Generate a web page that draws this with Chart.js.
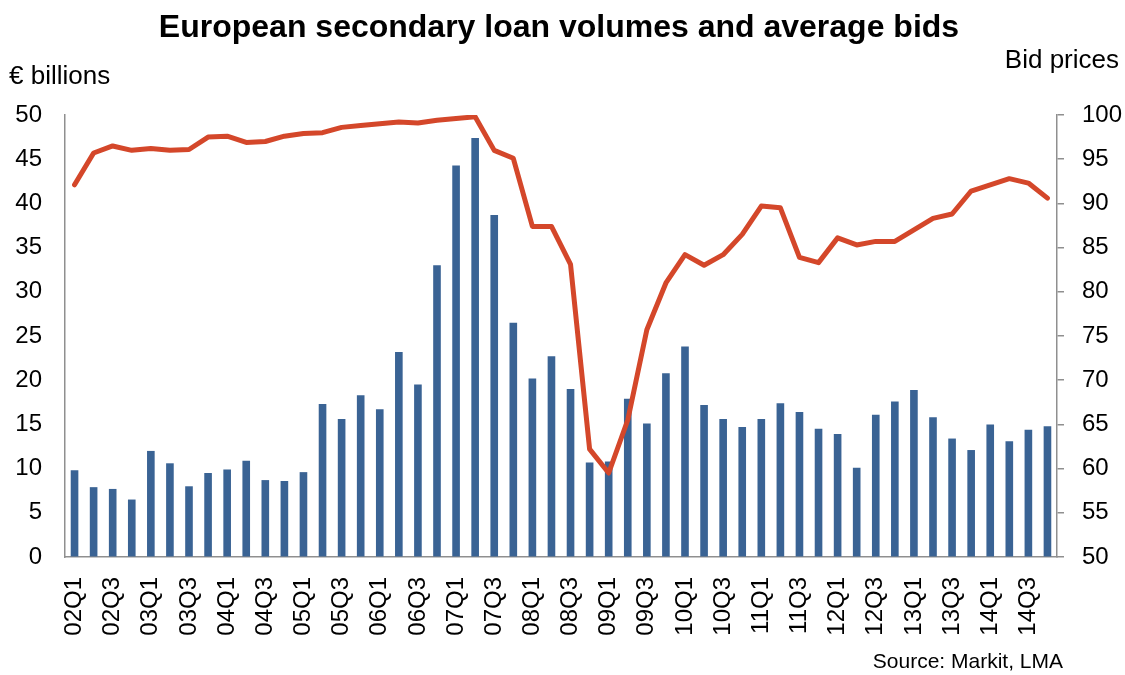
<!DOCTYPE html>
<html>
<head>
<meta charset="utf-8">
<script src="https://cdn.jsdelivr.net/npm/chart.js@4.4.1/dist/chart.umd.min.js"></script>
<style>
  html, body { margin: 0; padding: 0; background: #fff; }
  #wrap { position: relative; width: 1125px; height: 675px; }
</style>
</head>
<body>
<div id="wrap"><canvas id="myChart" width="1125" height="675"></canvas></div>
<script>
// quarters 02Q1 .. 14Q4
const quarters = [
  '02Q1','02Q2','02Q3','02Q4','03Q1','03Q2','03Q3','03Q4',
  '04Q1','04Q2','04Q3','04Q4','05Q1','05Q2','05Q3','05Q4',
  '06Q1','06Q2','06Q3','06Q4','07Q1','07Q2','07Q3','07Q4',
  '08Q1','08Q2','08Q3','08Q4','09Q1','09Q2','09Q3','09Q4',
  '10Q1','10Q2','10Q3','10Q4','11Q1','11Q2','11Q3','11Q4',
  '12Q1','12Q2','12Q3','12Q4','13Q1','13Q2','13Q3','13Q4',
  '14Q1','14Q2','14Q3','14Q4'
];

// secondary loan volumes, EUR billions (left axis)
const volumes = [
  9.8, 7.9, 7.7, 6.5, 12.0, 10.6, 8.0, 9.5,
  9.9, 10.9, 8.7, 8.6, 9.6, 17.3, 15.6, 18.3,
  16.7, 23.2, 19.5, 33.0, 44.3, 47.4, 38.7, 26.5,
  20.2, 22.7, 19.0, 10.7, 10.8, 17.9, 15.1, 20.8,
  23.8, 17.2, 15.6, 14.7, 15.6, 17.4, 16.4, 14.5,
  13.9, 10.1, 16.1, 17.6, 18.9, 15.8, 13.4, 12.1,
  15.0, 13.1, 14.4, 14.8
];

// average bid prices (right axis)
const bids = [
  92.1, 95.7, 96.5, 96.0, 96.2, 96.0, 96.1, 97.5,
  97.6, 96.9, 97.0, 97.6, 97.9, 98.0, 98.6, 98.8,
  99.0, 99.2, 99.1, 99.4, 99.6, 99.8, 96.0, 95.1,
  87.4, 87.4, 83.1, 62.2, 59.5, 65.5, 75.7, 81.0,
  84.2, 83.0, 84.2, 86.5, 89.7, 89.5, 83.9, 83.3,
  86.1, 85.3, 85.7, 85.7, 87.0, 88.3, 88.8, 91.4,
  92.1, 92.8, 92.3, 90.6
];

const chartTitle = 'European secondary loan volumes and average bids';
const leftTitle = '€ billions';
const rightTitle = 'Bid prices';
const sourceNote = 'Source: Markit, LMA';

Chart.defaults.font.family = '"Liberation Sans", Arial, sans-serif';
Chart.defaults.color = '#000';

const axisGrey = '#8f8f8f';

// titles and source drawn onto the canvas
const extraText = {
  id: 'extraText',
  afterDraw(chart) {
    const ctx = chart.ctx;
    ctx.save();
    ctx.fillStyle = '#000';
    ctx.textBaseline = 'middle';
    ctx.font = 'bold 32px "Liberation Sans", Arial, sans-serif';
    ctx.textAlign = 'center';
    ctx.fillText(chartTitle, 559, 28);
    ctx.font = '26px "Liberation Sans", Arial, sans-serif';
    ctx.textAlign = 'left';
    ctx.fillText(leftTitle, 9, 77);
    ctx.textAlign = 'right';
    ctx.fillText(rightTitle, 1119, 61);
    ctx.font = '21px "Liberation Sans", Arial, sans-serif';
    ctx.fillText(sourceNote, 1063, 662);
    ctx.restore();
  }
};

let myChart = document.getElementById('myChart').getContext('2d');

let dataChart = new Chart(myChart, {
  type: 'bar',
  data: {
    labels: quarters,
    datasets: [{
      type: 'line',
      label: 'Average bid',
      data: bids,
      yAxisID: 'y1',
      borderColor: '#d4472a',
      borderWidth: 5,
      borderJoinStyle: 'round',
      borderCapStyle: 'round',
      pointRadius: 0,
      tension: 0,
      order: 0
    }, {
      label: 'Volume',
      data: volumes,
      yAxisID: 'y',
      backgroundColor: '#3a6394',
      barPercentage: 0.4,
      categoryPercentage: 1,
      order: 1
    }]
  },
  options: {
    responsive: false,
    animation: false,
    layout: {
      padding: { top: 115, left: 0, right: 0, bottom: 30 }
    },
    plugins: {
      legend: { display: false },
      title: { display: false },
      tooltip: { enabled: false }
    },
    scales: {
      x: {
        grid: { display: true, drawOnChartArea: false, drawTicks: false },
        border: { color: axisGrey, width: 1.5 },
        ticks: {
          autoSkip: false,
          maxRotation: 90,
          minRotation: 90,
          padding: 20,
          font: { size: 24 },
          callback: function (val, i) {
            return i % 2 === 0 ? quarters[i] : '';
          }
        },
        afterFit: function (scale) { scale.height = 88; }
      },
      y: {
        position: 'left',
        min: 0,
        max: 50,
        grid: { display: true, drawOnChartArea: false, drawTicks: false },
        border: { color: axisGrey, width: 1.5 },
        ticks: { stepSize: 5, padding: 23, font: { size: 24 } },
        afterFit: function (scale) { scale.width = 65; }
      },
      y1: {
        position: 'right',
        min: 50,
        max: 100,
        grid: { display: true, drawOnChartArea: false, drawTicks: true, tickLength: 7, color: axisGrey, lineWidth: 1.5 },
        border: { color: axisGrey, width: 1.5 },
        ticks: { stepSize: 5, padding: 18, font: { size: 24 } },
        afterFit: function (scale) { scale.width = 68; }
      }
    }
  },
  plugins: [extraText]
});
</script>
</body>
</html>
